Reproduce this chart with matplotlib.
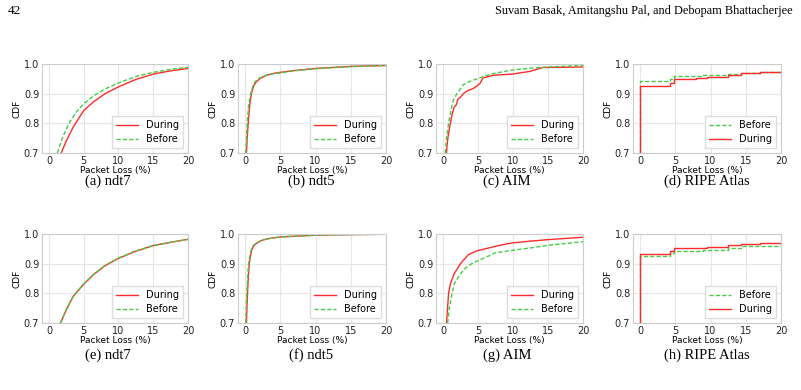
import numpy as np
import matplotlib
matplotlib.use('Agg')
import matplotlib.pyplot as plt

######## data (x = packet loss %, y = CDF)

# (a) ndt7, top row
a_during_x = [1.76, 2.5, 3.5, 5, 6.5, 8, 10, 12.5, 15, 17.5, 20]
a_during_y = [0.70, 0.741, 0.788, 0.843, 0.874, 0.899, 0.923, 0.948, 0.966, 0.977, 0.985]
a_before_x = [1.2, 2.0, 3.0, 4.0, 5, 6.5, 8, 10, 12.5, 15, 17.5, 20]
a_before_y = [0.70, 0.755, 0.805, 0.84, 0.866, 0.894, 0.915, 0.936, 0.958, 0.972, 0.982, 0.989]

# (b) ndt5
b_during_x = [0.2, 0.3, 0.45, 0.65, 0.9, 1.2, 1.6, 2.2, 3, 4, 5, 7, 10, 15, 20]
b_during_y = [0.70, 0.75, 0.80, 0.86, 0.90, 0.925, 0.94, 0.952, 0.962, 0.968, 0.972, 0.978, 0.985, 0.992, 0.995]
b_before_x = [0.1, 0.2, 0.3, 0.5, 0.8, 1.1, 1.4, 2.0, 3, 4, 5, 7, 10, 15, 20]
b_before_y = [0.70, 0.75, 0.80, 0.86, 0.90, 0.925, 0.94, 0.952, 0.962, 0.967, 0.970, 0.977, 0.984, 0.991, 0.995]

# (c) AIM
c_during_x = [0.5, 0.6, 0.75, 1.05, 1.3, 1.6, 1.9, 2.1, 2.5, 2.9, 3.5, 4.3, 4.8, 5.3, 5.7, 7.2, 9.9, 12.4, 14.2, 20]
c_during_y = [0.70, 0.73, 0.76, 0.80, 0.83, 0.855, 0.862, 0.88, 0.888, 0.90, 0.91, 0.917, 0.925, 0.935, 0.953, 0.962, 0.966, 0.975, 0.988, 0.99]
c_before_x = [0.33, 0.5, 0.8, 1.1, 1.5, 2.0, 2.9, 4.0, 5.0, 6.0, 7.2, 10, 12.5, 15, 20]
c_before_y = [0.70, 0.75, 0.80, 0.84, 0.88, 0.90, 0.93, 0.943, 0.951, 0.96, 0.968, 0.98, 0.986, 0.99, 0.995]

# (d) RIPE Atlas (step CDF)
d_before_x = [0, 0, 4.3, 4.8, 9.0, 12.5, 14.3, 17.0, 20]
d_before_y = [0.70, 0.943, 0.950, 0.961, 0.963, 0.966, 0.971, 0.972, 0.973]
d_during_x = [0, 0, 4.2, 4.8, 8.0, 9.5, 12.5, 14.3, 17.0, 20]
d_during_y = [0.70, 0.927, 0.937, 0.949, 0.953, 0.956, 0.963, 0.970, 0.972, 0.973]

# (e) ndt7, bottom row
e_during_x = [1.67, 2.5, 3.5, 5, 6.5, 8, 10, 12.5, 15, 17.5, 20]
e_during_y = [0.70, 0.745, 0.79, 0.831, 0.865, 0.892, 0.918, 0.942, 0.961, 0.972, 0.982]
e_before_x = [1.62, 2.5, 3.5, 5, 6.5, 8, 10, 12.5, 15, 17.5, 20]
e_before_y = [0.70, 0.746, 0.791, 0.832, 0.866, 0.893, 0.919, 0.943, 0.961, 0.972, 0.982]

# (f) ndt5
f_during_x = [0.2, 0.28, 0.35, 0.45, 0.6, 0.8, 1.0, 1.3, 1.7, 2.5, 3.5, 5, 10, 15, 20]
f_during_y = [0.70, 0.76, 0.80, 0.85, 0.90, 0.93, 0.95, 0.962, 0.97, 0.98, 0.985, 0.99, 0.996, 0.998, 0.999]
f_before_x = [0.1, 0.18, 0.25, 0.35, 0.5, 0.7, 0.9, 1.2, 1.6, 2.4, 3.5, 5, 10, 15, 20]
f_before_y = [0.70, 0.76, 0.80, 0.85, 0.90, 0.93, 0.95, 0.962, 0.97, 0.979, 0.985, 0.99, 0.996, 0.998, 0.999]

# (g) AIM
g_during_x = [0.5, 0.65, 0.8, 1.05, 1.6, 2.5, 3.6, 4.8, 6.2, 8.1, 9.9, 12.5, 15, 20]
g_during_y = [0.70, 0.75, 0.80, 0.832, 0.866, 0.90, 0.93, 0.943, 0.951, 0.962, 0.970, 0.976, 0.981, 0.989]
g_before_x = [0.66, 0.9, 1.3, 1.6, 2.5, 3.2, 4.1, 5.0, 6.0, 7.4, 9.9, 12.5, 15, 17.5, 20]
g_before_y = [0.70, 0.75, 0.80, 0.832, 0.866, 0.885, 0.90, 0.91, 0.92, 0.936, 0.945, 0.953, 0.962, 0.968, 0.974]

# (h) RIPE Atlas (step CDF)
h_before_x = [0, 0, 4.2, 4.8, 9.0, 12.5, 14.3, 20]
h_before_y = [0.70, 0.925, 0.935, 0.943, 0.946, 0.953, 0.960, 0.962]
h_during_x = [0, 0, 4.2, 4.8, 9.5, 12.5, 14.3, 17.0, 20]
h_during_y = [0.70, 0.933, 0.943, 0.953, 0.957, 0.963, 0.967, 0.970, 0.970]

captions = ['(a) ndt7', '(b) ndt5', '(c) AIM', '(d) RIPE Atlas',
            '(e) ndt7', '(f) ndt5', '(g) AIM', '(h) RIPE Atlas']

xticks = [0, 5, 10, 15, 20]
yticks = [0.7, 0.8, 0.9, 1.0]

RED = '#ff2b2b'
GREEN = '#44cc44'

######## layout (pixel boxes of each axes)
W, H = 801, 390
fig = plt.figure(figsize=(W / 100, H / 100), dpi=100)

col_px = [(42, 188), (238, 386), (436, 583), (633, 781)]
row_px = [(64, 153), (234, 323)]
cap_x = [108, 311, 507, 707]
cap_y = [181, 355]


def make_ax(r, c):
    x0, x1 = col_px[c]
    y0, y1 = row_px[r]
    ax = fig.add_axes([x0 / W, 1 - y1 / H, (x1 - x0) / W, (y1 - y0) / H])
    ax.set_xlim(-1, 20)
    ax.set_ylim(0.7, 1.0)
    ax.set_xticks(xticks)
    ax.set_yticks(yticks)
    ax.set_yticklabels(['%.1f' % v for v in yticks])
    ax.tick_params(length=0, labelsize=7, pad=2, colors='#222222')
    ax.grid(True, color='#e6e6e6', lw=0.8)
    ax.set_axisbelow(True)
    for s in ax.spines.values():
        s.set_color('#cccccc')
        s.set_linewidth(0.8)
    ax.set_xlabel('Packet Loss (%)', fontsize=6.5, labelpad=0.5)
    ax.set_ylabel('CDF', fontsize=6.5, labelpad=2)
    fig.text(cap_x[c] / W, 1 - cap_y[r] / H, captions[r * 4 + c],
             ha='center', va='center', fontsize=10.5, family='Liberation Serif')
    return ax


def add_legend(ax):
    ax.legend(loc='lower right', fontsize=7, frameon=True, fancybox=False,
              edgecolor='#dddddd', framealpha=1, handlelength=2.3,
              borderpad=0.4, labelspacing=0.4, handletextpad=0.8,
              borderaxespad=0.5)


def smooth_panel(ax, dx, dy, bx, by):
    ax.plot(dx, dy, color=RED, lw=1.0, label='During')
    ax.plot(bx, by, color=GREEN, lw=1.0, ls=(0, (3, 1.6)), label='Before')
    add_legend(ax)


def step_panel(ax, bx, by, dx, dy):
    ax.step(bx, by, where='post', color=GREEN, lw=1.0, ls=(0, (3, 1.6)), label='Before')
    ax.step(dx, dy, where='post', color=RED, lw=1.0, label='During')
    add_legend(ax)


smooth_panel(make_ax(0, 0), a_during_x, a_during_y, a_before_x, a_before_y)
smooth_panel(make_ax(0, 1), b_during_x, b_during_y, b_before_x, b_before_y)
smooth_panel(make_ax(0, 2), c_during_x, c_during_y, c_before_x, c_before_y)
step_panel(make_ax(0, 3), d_before_x, d_before_y, d_during_x, d_during_y)
smooth_panel(make_ax(1, 0), e_during_x, e_during_y, e_before_x, e_before_y)
smooth_panel(make_ax(1, 1), f_during_x, f_during_y, f_before_x, f_before_y)
smooth_panel(make_ax(1, 2), g_during_x, g_during_y, g_before_x, g_before_y)
step_panel(make_ax(1, 3), h_before_x, h_before_y, h_during_x, h_during_y)

### page header
fig.text(8 / W, 1 - 11 / H, '42', fontsize=9.5, family='Liberation Serif', va='center')
fig.text(793 / W, 1 - 11 / H, 'Suvam Basak, Amitangshu Pal, and Debopam Bhattacherjee',
         fontsize=8.8, family='Liberation Serif', va='center', ha='right')

fig.savefig('out.png', dpi=100)
